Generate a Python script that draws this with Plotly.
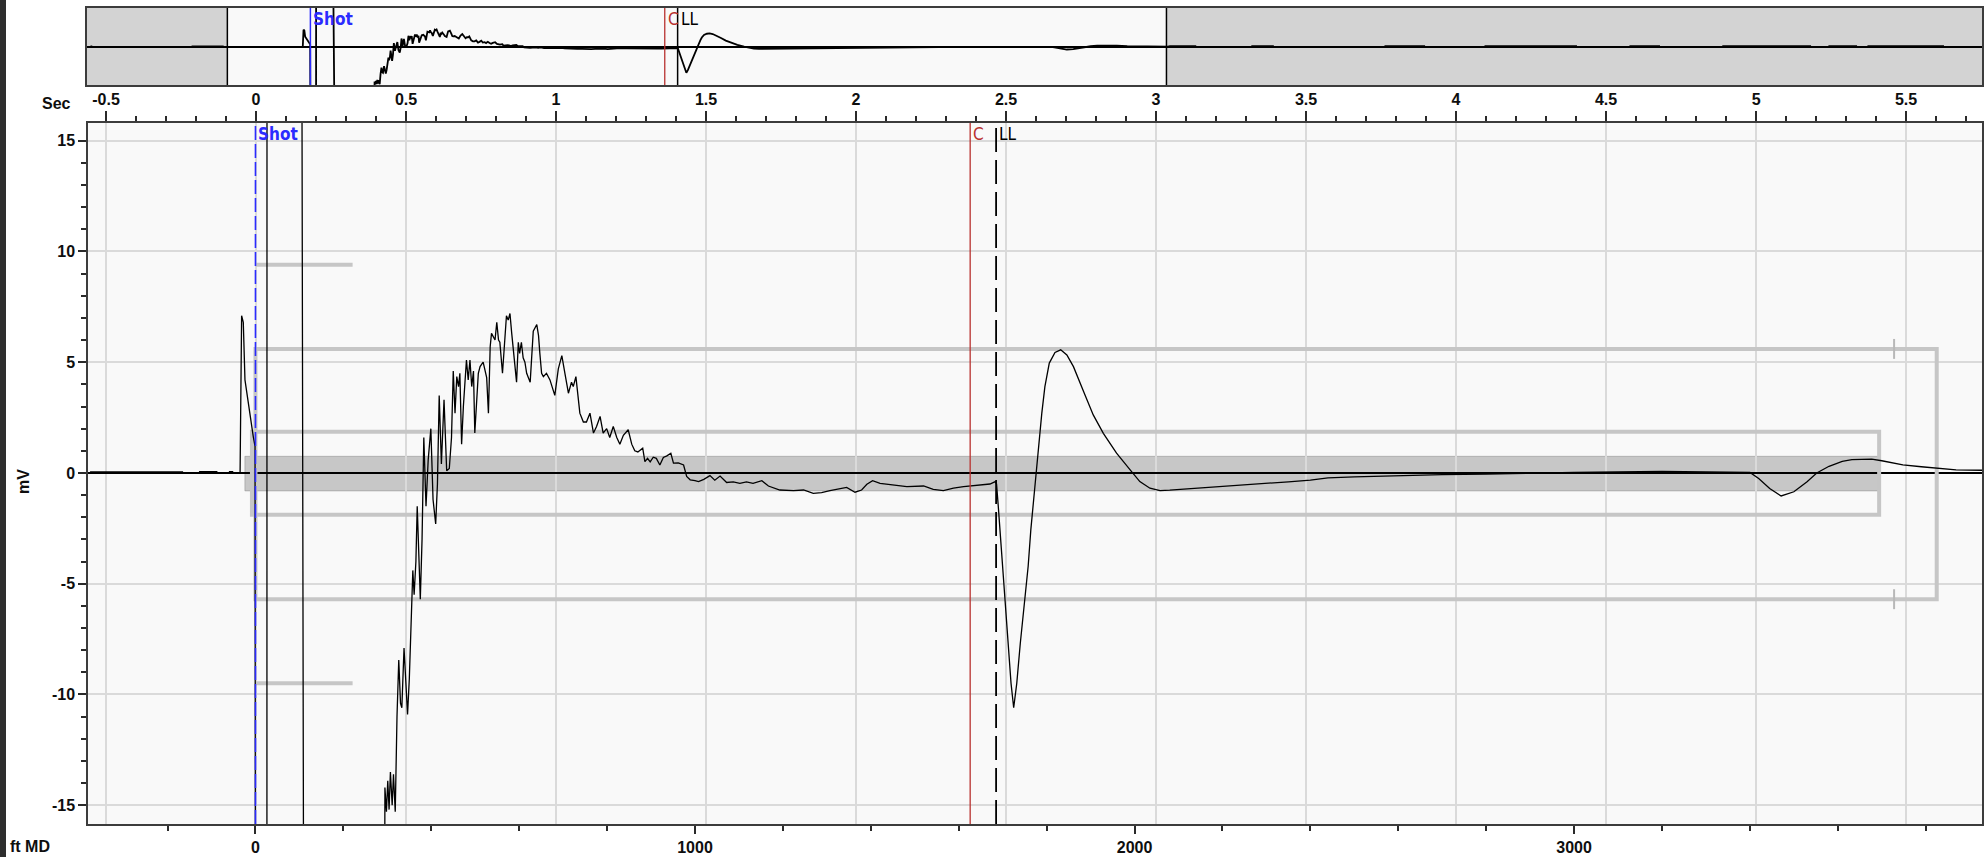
import plotly.graph_objects as go

W, H = 1988, 857

# ---------------- axis ranges / ticks ----------------
FT_RANGE = [-381, 3928]          # bottom axis (ft MD)
SEC_RANGE = [-0.56, 5.753]       # top axis (Sec)
MV_RANGE = [-15.85, 15.8]        # left axis (mV)
MINI_FT_RANGE = [-1025, 7670]    # overview strip
MINI_MV_RANGE = [-15.6, 16.0]

FT_TICKS = [0, 1000, 2000, 3000]
FT_TICKTEXT = ["0", "1000", "2000", "3000"]
SEC_TICKS = [-0.5, 0, 0.5, 1, 1.5, 2, 2.5, 3, 3.5, 4, 4.5, 5, 5.5]
SEC_TICKTEXT = ["-0.5", "0", "0.5", "1", "1.5", "2", "2.5", "3", "3.5", "4", "4.5", "5", "5.5"]
MV_TICKS = [-15, -10, -5, 0, 5, 10, 15]
MV_TICKTEXT = ["-15", "-10", "-5", "0", "5", "10", "15"]

# ---------------- markers ----------------
SHOT_FT = 0
C_FT = 1626
LL_FT = 1685

# ---------------- guide boxes (ft, mV) ----------------
BAND_FT = [-24, 3694]
BAND_MV = [-0.81, 0.75]
INNER_FT = [-8, 3694]
INNER_MV = [-1.89, 1.86]
OUTER_FT = [0, 3825]
OUTER_MV = [-5.7, 5.6]
OUTER_TICK_FT = 3728
SHORT_FT = [0, 221]
SHORT_MV = [-9.5, 9.4]

# ---------------- trace (ft MD, mV) ----------------
PRE_FT = [-1025, -1006, -1005, -1004, -543, -542, -401, -400, -376, -375, -166, -165,
          -128, -127, -88, -87, -60, -59, -52, -51, -35]
PRE_MV = [0, 0, 0.6, 0, 0, 0.2, 0.2, 0, 0, 0.05, 0.05, 0,
          0, 0.06, 0.06, 0, 0, 0.06, 0.06, 0, 0]

SPIKE_FT = [-33.5, -31.5, -27.7, -23.9, -5, -1, 0.6, 26.0, 26.3, 103.5, 111.5, 292]
SPIKE_MV = [4.2, 7.1, 6.8, 4.2, 1.64, 1.2, -40, -40, 40, 40, -40, -40]

RISE_FT = [294.5, 298, 301, 304, 307, 311, 314, 318, 322, 326, 330, 333, 338, 342, 346,
           350, 355, 358, 361, 365, 368, 371, 375, 379, 383, 388, 393, 399, 404, 410,
           414, 418, 423, 429, 435, 441, 446]
RISE_MV = [-14.2, -15.3, -13.9, -15.2, -13.5, -15.0, -13.6, -15.3, -11.0, -8.45, -10.4,
           -10.6, -7.9, -9.6, -10.9, -9.3, -5.7, -4.4, -5.5, -4.0, -1.5, -3.0, -5.7, -3.0,
           1.6, -1.5, 0.6, 2.0, -1.2, -2.3, -0.5, 3.5, 0.4, 3.3, 0.1, 0.2, 1.6]

PLATEAU_FT = [450, 454, 458, 462, 465, 469, 473, 477, 480, 484, 488, 492, 496, 499, 503,
              507, 511, 518, 526, 530, 534, 537, 545, 549, 553, 556, 562, 568, 571, 575,
              579, 583, 587, 594, 598, 601, 605, 609, 613, 617, 625, 629, 632, 640, 644,
              647, 651, 655, 662, 670, 681, 689, 697, 704, 712, 719, 723, 729, 734, 738,
              746, 753, 761, 769, 776, 784, 791, 799, 806, 814, 822, 829, 837, 848, 856,
              863]
PLATEAU_MV = [4.6, 2.7, 4.35, 3.9, 4.5, 1.3, 3.0, 4.4, 5.1, 4.2, 5.1, 3.9, 4.6, 1.8, 3.0,
              4.5, 4.8, 5.0, 4.3, 2.7, 5.7, 6.3, 6.0, 6.8, 6.0, 5.9, 4.5, 6.2, 7.1, 6.9,
              7.2, 6.3, 5.4, 4.1, 5.9, 5.4, 5.9, 5.2, 5.0, 4.5, 4.1, 5.4, 6.4, 6.7, 6.2,
              5.4, 4.5, 4.35, 4.5, 4.2, 3.5, 4.7, 5.3, 4.5, 3.6, 4.1, 3.9, 4.35, 3.5, 2.7,
              2.3, 2.3, 2.7, 1.8, 2.1, 2.55, 1.8, 2.0, 1.6, 2.1, 1.6, 1.3, 1.7, 1.95, 1.3,
              1.0]

DRIFT_FT = [870, 875, 881, 886, 892, 898, 905, 912, 920, 928, 936, 945, 951, 962, 974,
            981, 989, 1000, 1008, 1020, 1034, 1045, 1057, 1072, 1087, 1102, 1117, 1132,
            1152, 1167, 1193, 1224, 1247, 1269, 1288, 1307, 1330, 1345, 1364, 1379, 1391,
            1404, 1421, 1451, 1482, 1520, 1542, 1565, 1588, 1611, 1626, 1649, 1671, 1683,
            1686]
DRIFT_MV = [0.95, 1.04, 1.12, 0.51, 0.66, 0.5, 0.71, 0.66, 0.36, 0.7, 0.77, 0.89, 0.44,
            0.45, 0.36, -0.16, -0.31, -0.35, -0.39, -0.29, -0.12, -0.33, -0.14, -0.43,
            -0.4, -0.47, -0.4, -0.47, -0.35, -0.59, -0.77, -0.8, -0.77, -0.92, -0.89,
            -0.8, -0.69, -0.65, -0.87, -0.77, -0.51, -0.35, -0.47, -0.54, -0.62, -0.59,
            -0.74, -0.8, -0.69, -0.62, -0.59, -0.54, -0.5, -0.39, -0.5]

LLWAVE_FT = [1690, 1694, 1700, 1705, 1712, 1719, 1725, 1732, 1740, 1751, 1758, 1764, 1774,
             1781, 1789, 1796, 1806, 1819, 1832, 1846, 1861, 1884, 1906, 1929, 1959, 1990,
             2012, 2035, 2058]
LLWAVE_MV = [-1.52, -2.57, -4.2, -5.74, -7.7, -9.5, -10.6, -9.5, -7.7, -5.74, -4.2, -2.57,
             -0.31, 1.19, 2.7, 3.9, 4.96, 5.44, 5.56, 5.33, 4.8, 3.68, 2.62, 1.79, 0.89,
             0.14, -0.39, -0.69, -0.8]

LATE_FT = [2080, 2110, 2150, 2200, 2250, 2300, 2350, 2400, 2440, 2500, 2600, 2700, 2800,
           2900, 3000, 3100, 3200, 3300, 3400, 3420, 3445, 3471, 3500, 3530, 3552, 3580,
           3610, 3632, 3677, 3700, 3748, 3790, 3825, 3869, 3935]
LATE_MV = [-0.78, -0.74, -0.68, -0.62, -0.55, -0.47, -0.4, -0.32, -0.22, -0.18, -0.12,
           -0.08, -0.05, -0.03, 0.02, 0.05, 0.07, 0.05, 0.02, -0.25, -0.7, -1.04, -0.85,
           -0.4, 0.0, 0.3, 0.52, 0.6, 0.62, 0.55, 0.36, 0.28, 0.21, 0.14, 0.12]

TAIL_FT = [3944, 4061, 4062, 4320, 4321, 4417, 4418, 4931, 4932, 5111, 5112, 5390, 5391,
           5808, 5809, 6055, 6056, 6189, 6190, 6481, 6482, 6882, 6883, 6968, 6969, 7093,
           7094, 7147, 7148, 7368, 7377, 7492, 7493, 7670]
TAIL_MV = [0.35, 0.35, 0, 0, 0.35, 0.35, 0, 0, 0.35, 0.35, 0, 0, 0.35,
           0.35, 0, 0, 0.35, 0.35, 0, 0, 0.35, 0.35, 0, 0, 0.35, 0.35,
           0, 0, 0.35, 0.35, 0.35, 0.35, 0, 0]

TRACE_FT = PRE_FT + SPIKE_FT + RISE_FT + PLATEAU_FT + DRIFT_FT + LLWAVE_FT + LATE_FT + TAIL_FT
TRACE_MV = PRE_MV + SPIKE_MV + RISE_MV + PLATEAU_MV + DRIFT_MV + LLWAVE_MV + LATE_MV + TAIL_MV

# ---------------- styling / layout geometry (pixels) ----------------
PLOT_L, PLOT_R, PLOT_T, PLOT_B = 88, 1982, 123, 824
MINI_L, MINI_R, MINI_T, MINI_B = 87, 1982, 8, 85

FRAME = "#3c3c3c"
TICKC = "#2a2a2a"
GRID = "#dadada"
GUIDE = "#c6c6c6"
BLUE = "#2b2bff"
RED = "#b8312f"
TXT = "#0e0e0e"
TICKFONT = dict(family="Liberation Sans, Arial, sans-serif", size=16, color=TXT, weight="bold")
LABELFONT = "Liberation Sans Narrow, Arial Narrow, DejaVu Sans Condensed, sans-serif"

FT_MINOR = list(range(-200, 3801, 200))
SEC_MINOR = [round(-0.5 + 0.1 * i, 1) for i in range(0, 63)]
MV_MINOR = list(range(-15, 16))

fig = go.Figure()

fig.add_trace(go.Scatter(x=TRACE_FT, y=TRACE_MV, xaxis="x", yaxis="y", mode="lines",
                         line=dict(color="black", width=1.3), hoverinfo="skip"))
fig.add_trace(go.Scatter(x=[SEC_RANGE[0]], y=[MV_RANGE[0]], xaxis="x2", yaxis="y",
                         mode="markers", marker=dict(opacity=0), hoverinfo="skip"))
fig.add_trace(go.Scatter(x=TRACE_FT, y=TRACE_MV, xaxis="x3", yaxis="y3", mode="lines",
                         line=dict(color="black", width=1.8), hoverinfo="skip"))

shapes = []
# dark left strip
shapes.append(dict(type="rect", xref="paper", yref="paper", x0=0, x1=6 / W, y0=0, y1=1,
                   fillcolor="#2e2e2e", line=dict(width=0), layer="below"))
# overview strip shading outside window
shapes.append(dict(type="rect", xref="x3", yref="y3 domain", x0=MINI_FT_RANGE[0], x1=FT_RANGE[0],
                   y0=0, y1=1, fillcolor="#d3d3d3", line=dict(width=0), layer="below"))
shapes.append(dict(type="rect", xref="x3", yref="y3 domain", x0=FT_RANGE[1], x1=MINI_FT_RANGE[1],
                   y0=0, y1=1, fillcolor="#d3d3d3", line=dict(width=0), layer="below"))
for xv in FT_RANGE:
    shapes.append(dict(type="line", xref="x3", yref="y3 domain", x0=xv, x1=xv, y0=0, y1=1,
                       line=dict(color="black", width=1.5)))
# main guide band and boxes
shapes.append(dict(type="rect", xref="x", yref="y", x0=BAND_FT[0], x1=BAND_FT[1],
                   y0=BAND_MV[0], y1=BAND_MV[1], fillcolor="rgba(150,150,150,0.5)",
                   line=dict(color="rgba(140,140,140,0.5)", width=1), layer="below"))
shapes.append(dict(type="rect", xref="x", yref="y", x0=INNER_FT[0], x1=INNER_FT[1],
                   y0=INNER_MV[0], y1=INNER_MV[1], line=dict(color=GUIDE, width=4),
                   layer="between"))
shapes.append(dict(type="rect", xref="x", yref="y", x0=OUTER_FT[0], x1=OUTER_FT[1],
                   y0=OUTER_MV[0], y1=OUTER_MV[1], line=dict(color=GUIDE, width=4),
                   layer="between"))
for yv in OUTER_MV:
    shapes.append(dict(type="line", xref="x", yref="y", x0=OUTER_TICK_FT, x1=OUTER_TICK_FT,
                       y0=yv - 0.45, y1=yv + 0.45, line=dict(color="#b8b8b8", width=2),
                       layer="between"))
for yv in SHORT_MV:
    shapes.append(dict(type="line", xref="x", yref="y", x0=SHORT_FT[0], x1=SHORT_FT[1],
                       y0=yv, y1=yv, line=dict(color=GUIDE, width=4), layer="between"))
# marker lines, main
shapes.append(dict(type="line", xref="x", yref="y domain", x0=SHOT_FT, x1=SHOT_FT, y0=0, y1=1,
                   line=dict(color=BLUE, width=1.6, dash="14px,4px")))
shapes.append(dict(type="line", xref="x", yref="y domain", x0=C_FT, x1=C_FT, y0=0, y1=1,
                   line=dict(color=RED, width=1.3)))
shapes.append(dict(type="line", xref="x", yref="y domain", x0=LL_FT, x1=LL_FT, y0=0, y1=1,
                   line=dict(color="black", width=1.8, dash="24px,8px")))
# marker lines, overview
shapes.append(dict(type="line", xref="x3", yref="y3 domain", x0=SHOT_FT, x1=SHOT_FT, y0=0, y1=1,
                   line=dict(color=BLUE, width=1.5)))
shapes.append(dict(type="line", xref="x3", yref="y3 domain", x0=C_FT, x1=C_FT, y0=0, y1=1,
                   line=dict(color=RED, width=1.3)))
shapes.append(dict(type="line", xref="x3", yref="y3 domain", x0=LL_FT, x1=LL_FT, y0=0, y1=1,
                   line=dict(color="black", width=1.5)))

annotations = []
def lab(text, x, xref, ypx, color, weight):
    annotations.append(dict(text=text, x=x, xref=xref, y=1 - ypx / H, yref="paper",
                            xanchor="left", yanchor="middle", xshift=1, showarrow=False,
                            font=dict(family=LABELFONT, size=17, color=color, weight=weight)))

lab("Shot", SHOT_FT, "x", 134, BLUE, "bold")
lab("C", C_FT, "x", 134, RED, "normal")
lab("LL", LL_FT, "x", 134, "black", "normal")
lab("Shot", SHOT_FT, "x3", 19, BLUE, "bold")
lab("C", C_FT, "x3", 19, RED, "normal")
lab("LL", LL_FT, "x3", 19, "black", "normal")

for text, xpx, ypx, ang in [("Sec", 56, 103, 0), ("ft MD", 30, 846, 0), ("mV", 23, 482, -90)]:
    annotations.append(dict(text=text, x=xpx / W, y=1 - ypx / H, xref="paper", yref="paper",
                            xanchor="center", yanchor="middle", showarrow=False, textangle=ang,
                            font=TICKFONT))

fig.update_layout(
    width=W, height=H, margin=dict(l=0, r=0, t=0, b=0, pad=0),
    template="none", showlegend=False,
    paper_bgcolor="white", plot_bgcolor="#f9f9f9",
    xaxis=dict(domain=[PLOT_L / W, PLOT_R / W], anchor="y", range=FT_RANGE,
               tickmode="array", tickvals=FT_TICKS, ticktext=FT_TICKTEXT,
               ticks="outside", ticklen=8, tickwidth=1.5, tickcolor=TICKC,
               showgrid=False, zeroline=False, showline=True, linecolor=FRAME,
               linewidth=1.5, mirror=True, tickfont=TICKFONT, automargin=False,
               minor=dict(tickvals=FT_MINOR, ticks="outside", ticklen=5, tickwidth=1.5,
                          tickcolor=TICKC, showgrid=False)),
    xaxis2=dict(overlaying="x", side="top", anchor="y", range=SEC_RANGE,
                tickmode="array", tickvals=SEC_TICKS, ticktext=SEC_TICKTEXT,
                ticks="outside", ticklen=10, tickwidth=1.5, tickcolor=TICKC,
                showgrid=True, gridcolor=GRID, gridwidth=1.5, zeroline=False,
                showline=True, linecolor=FRAME, linewidth=1.5, tickfont=TICKFONT,
                automargin=False,
                minor=dict(tickvals=SEC_MINOR, ticks="outside", ticklen=5, tickwidth=1.5,
                           tickcolor=TICKC, showgrid=False)),
    yaxis=dict(domain=[1 - PLOT_B / H, 1 - PLOT_T / H], anchor="x", range=MV_RANGE,
               tickmode="array", tickvals=MV_TICKS, ticktext=MV_TICKTEXT,
               ticks="outside", ticklen=8, tickwidth=1.5, tickcolor=TICKC,
               showgrid=True, gridcolor=GRID, gridwidth=1.5,
               zeroline=True, zerolinecolor="black", zerolinewidth=1.5,
               showline=True, linecolor=FRAME, linewidth=1.5, mirror=True,
               tickfont=TICKFONT, automargin=False,
               minor=dict(tickvals=MV_MINOR, ticks="outside", ticklen=5, tickwidth=1.5,
                          tickcolor=TICKC, showgrid=False)),
    xaxis3=dict(domain=[MINI_L / W, MINI_R / W], anchor="y3", range=MINI_FT_RANGE,
                showticklabels=False, ticks="", showgrid=False, zeroline=False,
                showline=True, linecolor=FRAME, linewidth=1.5, mirror=True, automargin=False),
    yaxis3=dict(domain=[1 - MINI_B / H, 1 - MINI_T / H], anchor="x3", range=MINI_MV_RANGE,
                showticklabels=False, ticks="", showgrid=False,
                zeroline=True, zerolinecolor="black", zerolinewidth=1.5,
                showline=True, linecolor=FRAME, linewidth=1.5, mirror=True, automargin=False),
    shapes=shapes, annotations=annotations,
)

fig.write_html("out.html", config={"displayModeBar": False},
               post_script="document.body.style.margin='0';document.body.style.overflow='hidden';")
